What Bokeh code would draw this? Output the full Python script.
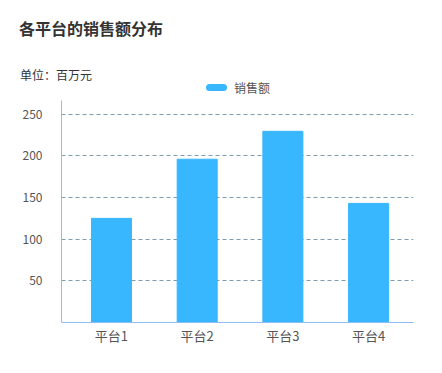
from bokeh.plotting import figure
from bokeh.layouts import column
from bokeh.models import Range1d, FixedTicker, ColumnDataSource, Div
from bokeh.embed import file_html
from bokeh.resources import INLINE

title_text = "各平台的销售额分布"
unit_text = "单位：百万元"
series_name = "销售额"
platforms = ["平台1", "平台2", "平台3", "平台4"]
sales = [125, 196, 229.5, 143]
y_ticks = [50, 100, 150, 200, 250]

FONT = "'Noto Sans CJK SC', 'Noto Sans', sans-serif"
BAR = "#38b6fe"
HEAD_H = 96

xs = list(range(1, len(platforms) + 1))
src = ColumnDataSource(dict(x=xs, top=sales))

p = figure(width=434, height=365 - HEAD_H, output_backend="svg", toolbar_location=None,
           x_range=Range1d(0.417, 4.524), y_range=Range1d(0, 266.5),
           min_border_left=61, min_border_right=21, min_border_top=100 - HEAD_H, min_border_bottom=43)
p.outline_line_color = None
p.background_fill_color = "white"
p.border_fill_color = "white"

p.vbar(x="x", top="top", width=0.467, source=src, color=BAR)

p.xgrid.visible = False
p.ygrid.ticker = FixedTicker(ticks=y_ticks)
p.ygrid.grid_line_color = "#7d9cb0"
p.ygrid.grid_line_dash = "4 3"
p.ygrid.grid_line_width = 1

p.xaxis.ticker = FixedTicker(ticks=xs)
p.xaxis.major_label_overrides = {i: n for i, n in zip(xs, platforms)}
p.yaxis.ticker = FixedTicker(ticks=y_ticks)
for ax in (p.xaxis, p.yaxis):
    ax.axis_line_color = "#8fbcf5"
    ax.major_tick_line_color = None
    ax.minor_tick_line_color = None
    ax.major_tick_out = 0
    ax.major_tick_in = 0
    ax.minor_tick_out = 0
    ax.minor_tick_in = 0
    ax.major_label_text_font = "Noto Sans CJK SC"
    ax.major_label_text_color = "#555555"
p.xaxis.major_label_text_font_size = "13px"
p.yaxis.major_label_text_font_size = "12px"
p.xaxis.major_label_standoff = 3
p.yaxis.major_label_standoff = 19

head_html = f"""
<div style="position:relative;width:434px;height:{HEAD_H}px;font-family:{FONT};background:white;">
  <div style="position:absolute;left:19px;top:16px;font-size:16px;line-height:24px;font-weight:bold;color:#333333;white-space:nowrap;">{title_text}</div>
  <div style="position:absolute;left:20px;top:67px;font-size:12px;line-height:16px;color:#333333;white-space:nowrap;">{unit_text}</div>
  <div style="position:absolute;left:206px;top:84px;width:21px;height:7px;border-radius:4px;background:{BAR};"></div>
  <div style="position:absolute;left:234px;top:80px;font-size:12px;line-height:16px;color:#555555;white-space:nowrap;">{series_name}</div>
</div>
"""
head = Div(text=head_html, width=434, height=HEAD_H, margin=(0, 0, 0, 0))

layout = column(head, p, spacing=0)
open("out.html", "w").write(file_html(layout, INLINE))
